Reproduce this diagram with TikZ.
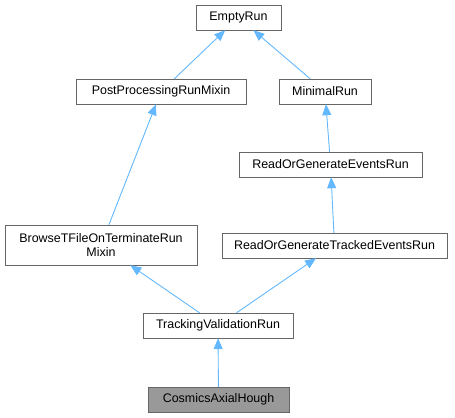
\documentclass[tikz,border=0pt]{standalone}
\usepackage{fontspec}
\setmainfont{Liberation Sans}
\usetikzlibrary{arrows.meta}
\definecolor{edgeblue}{HTML}{63B8FF}
\definecolor{boxline}{HTML}{666666}
\definecolor{boxfill}{HTML}{999999}
\tikzstyle{every node}=[rectangle, draw=boxline, fill=white, inner sep=0pt, minimum height=25bp, font=\fontsize{12.5}{14}\selectfont]
\tikzset{inh/.style={draw=edgeblue, line width=0.9bp,
      -{Triangle[length=11bp,width=9bp,fill=edgeblue]}}}

\begin{document}
\begin{tikzpicture}[x=1bp,y=-1bp]
    \useasboundingbox (0,0) rectangle (455,417);
    \node[minimum width=85bp] (emptyrun) at (238.5,17.5) {EmptyRun};
    \node[minimum width=170bp] (postproc) at (161,91.5) {PostProcessingRunMixin};
    \node[minimum width=92bp] (minimal) at (325,91.5) {MinimalRun};
    \node[minimum width=183bp] (readgen) at (330.5,164.5) {ReadOrGenerateEventsRun};
    \node[minimum width=192bp, minimum height=40bp, align=center] (browse) at (101,245) {BrowseTFileOnTerminateRun\\Mixin};
    \node[minimum width=225bp] (readtracked) at (334.5,245.5) {ReadOrGenerateTrackedEventsRun};
    \node[minimum width=150bp] (tracking) at (218,325.5) {TrackingValidationRun};
    \node[minimum width=141bp, fill=boxfill] (cosmics) at (218.5,399.5) {CosmicsAxialHough};
    \draw[inh] (postproc) -- (emptyrun);
    \draw[inh] (minimal) -- (emptyrun);
    \draw[inh] (browse) -- (postproc);
    \draw[inh] (readgen) -- (minimal);
    \draw[inh] (readtracked) -- (readgen);
    \draw[inh] (tracking) -- (browse);
    \draw[inh] (tracking) -- (readtracked);
    \draw[inh] (cosmics) -- (tracking);
\end{tikzpicture}
\end{document}
